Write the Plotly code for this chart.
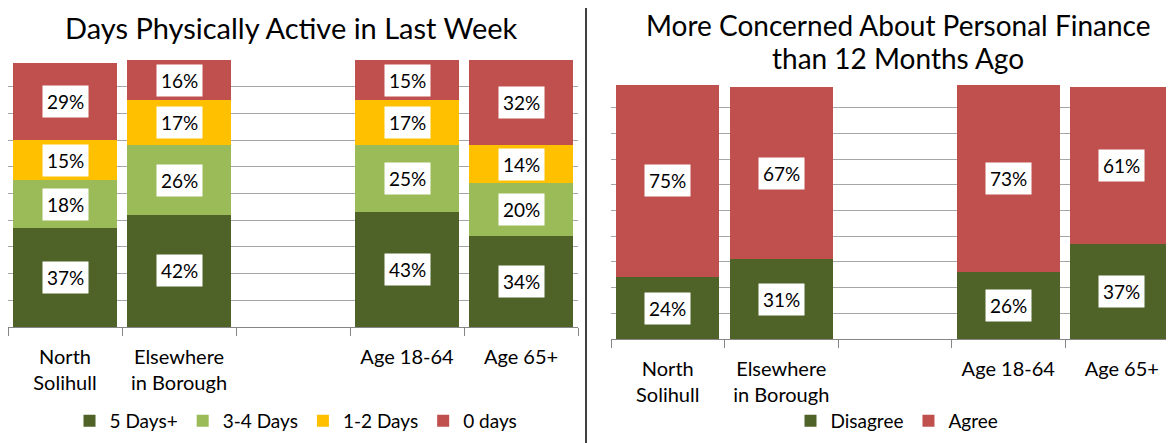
import plotly.graph_objects as go

categories = ["North<br>Solihull", "Elsewhere<br>in Borough", " ", "Age 18-64", "Age 65+"]

# Left chart: Days Physically Active in Last Week
days5 = [0.37, 0.42, None, 0.43, 0.34]
days34 = [0.18, 0.26, None, 0.25, 0.20]
days12 = [0.15, 0.17, None, 0.17, 0.14]
days0 = [0.29, 0.16, None, 0.15, 0.32]
left_names = ["5 Days+", "3-4 Days", "1-2 Days", "0 days"]
left_colors = ["#4F6228", "#9BBB59", "#FFC000", "#C0504D"]

# Right chart: More Concerned About Personal Finance
disagree = [0.24, 0.31, None, 0.26, 0.37]
agree = [0.75, 0.67, None, 0.73, 0.61]
right_names = ["Disagree", "Agree"]
right_colors = ["#4F6228", "#C0504D"]

FONT = "Lato"
OFF = 8  # page body margin
W, H = 1174 - OFF, 443 - OFF


def px_x(p):
    return (p - OFF) / W


def px_y(p):
    return 1 - (p - OFF) / H


fig = go.Figure()
annotations = []


def add_stack(series_list, names, colors, xa, ya, legend):
    cum = [0.0] * len(categories)
    for vals, name, col in zip(series_list, names, colors):
        fig.add_trace(go.Bar(
            x=categories, y=vals, name=name, marker=dict(color=col, line=dict(width=0)),
            width=0.91, xaxis=xa, yaxis=ya, legend=legend, hoverinfo="skip",
        ))
        for i, v in enumerate(vals):
            if v is None:
                continue
            top = min(cum[i] + v, 1.0)
            mid = (cum[i] + top) / 2
            annotations.append(dict(
                x=categories[i], y=mid, xref=xa, yref=ya,
                text=f"{round(v * 100)}%", showarrow=False,
                font=dict(family=FONT, size=19, color="black"),
                bgcolor="white", borderpad=4,
            ))
            cum[i] += v


add_stack([days5, days34, days12, days0], left_names, left_colors, "x", "y", "legend")
add_stack([disagree, agree], right_names, right_colors, "x2", "y2", "legend2")

axis_common_x = dict(
    type="category", categoryorder="array", categoryarray=categories,
    tickson="boundaries", ticks="outside", ticklen=8, tickcolor="#868686", tickwidth=1,
    showline=True, linecolor="#868686", linewidth=1, showgrid=False, zeroline=False,
    tickfont=dict(family=FONT, size=20, color="black"), ticklabelstandoff=12, fixedrange=True,
)
axis_common_y = dict(
    range=[0, 1], dtick=0.1, showticklabels=False, showgrid=True,
    gridcolor="#A6A6A6", gridwidth=1, zeroline=False, showline=False, fixedrange=True,
)

fig.update_layout(
    width=W, height=H,
    margin=dict(l=0, r=0, t=0, b=0),
    paper_bgcolor="white", plot_bgcolor="white",
    barmode="stack", bargap=0.09,
    xaxis=dict(domain=[px_x(8), px_x(578)], range=[-0.5, 4.5], anchor="y", **axis_common_x),
    yaxis=dict(domain=[px_y(327), px_y(60)], anchor="x", **axis_common_y),
    xaxis2=dict(domain=[px_x(611), 1.0], range=[-0.5, -0.5 + (1174 - 611) / 113.5], anchor="y2", **axis_common_x),
    yaxis2=dict(domain=[px_y(339), px_y(82)], anchor="x2", **axis_common_y),
    legend=dict(orientation="h", x=px_x(296), xanchor="center", y=px_y(421), yanchor="middle",
                font=dict(family=FONT, size=19, color="black"), traceorder="normal",
                bgcolor="rgba(0,0,0,0)"),
    legend2=dict(orientation="h", x=px_x(897), xanchor="center", y=px_y(421), yanchor="middle",
                 font=dict(family=FONT, size=19, color="black"), traceorder="normal",
                 bgcolor="rgba(0,0,0,0)"),
    showlegend=True,
    font=dict(family=FONT, color="black"),
)

annotations += [
    dict(text="Days Physically Active in Last Week", x=px_x(291), y=px_y(28), xref="paper", yref="paper",
         xanchor="center", yanchor="middle", showarrow=False, font=dict(family=FONT, size=29, color="black")),
    dict(text="More Concerned About Personal Finance", x=px_x(898), y=px_y(25), xref="paper", yref="paper",
         xanchor="center", yanchor="middle", showarrow=False, font=dict(family=FONT, size=28, color="black")),
    dict(text="than 12 Months Ago", x=px_x(898), y=px_y(58), xref="paper", yref="paper",
         xanchor="center", yanchor="middle", showarrow=False, font=dict(family=FONT, size=28, color="black")),
]
fig.update_layout(annotations=annotations)

fig.add_shape(type="line", xref="paper", yref="paper", x0=px_x(586), x1=px_x(586), y0=0, y1=1,
              line=dict(color="black", width=1.5))

fig.write_html("out.html")
